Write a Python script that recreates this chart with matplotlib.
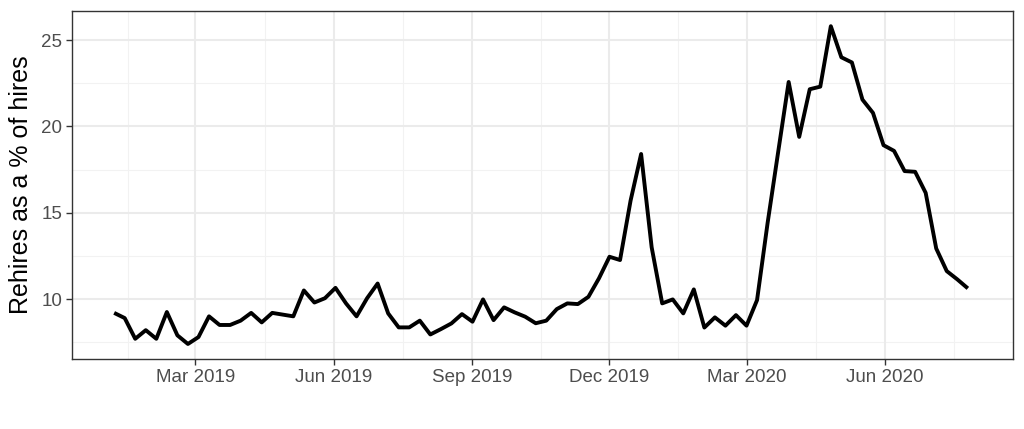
import matplotlib
matplotlib.use("Agg")
import matplotlib.pyplot as plt
import matplotlib.dates as mdates
import numpy as np
import pandas as pd

plt.rcParams['font.family'] = ['Liberation Sans', 'DejaVu Sans']

start_date = "2019-01-06"
n_weeks = 82
rehire_pct = [
    9.2, 8.9, 7.7, 8.2, 7.7, 9.25, 7.9, 7.4, 7.8, 9.0,
    8.5, 8.5, 8.75, 9.2, 8.65, 9.2, 9.1, 9.0, 10.5, 9.8,
    10.05, 10.65, 9.75, 9.0, 10.05, 10.9, 9.17, 8.36, 8.36, 8.75,
    7.95, 8.26, 8.59, 9.13, 8.69, 9.98, 8.78, 9.52, 9.23, 8.98,
    8.6, 8.75, 9.42, 9.75, 9.71, 10.13, 11.2, 12.45, 12.26, 15.7,
    18.4, 13.0, 9.75, 9.98, 9.17, 10.56, 8.35, 8.94, 8.46, 9.07,
    8.46, 9.94, 14.4, 18.5, 22.57, 19.39, 22.15, 22.3, 25.8, 24.0,
    23.7, 21.55, 20.78, 18.91, 18.58, 17.41, 17.37, 16.15, 12.93, 11.62,
    11.14, 10.62,
]
dates = pd.date_range(start_date, periods=n_weeks, freq="7D")

major_dates = pd.to_datetime(["2018-12-01", "2019-03-01", "2019-06-01", "2019-09-01",
                              "2019-12-01", "2020-03-01", "2020-06-01", "2020-09-01"])
tick_dates = major_dates[1:-1]
y_ticks = [10, 15, 20, 25]
y_minor = [7.5, 12.5, 17.5, 22.5]

fig = plt.figure(figsize=(10.24, 4.29), dpi=100)
ax = fig.add_axes([72/1024, 1 - 359/429, (1013-72)/1024, (359-11)/429])

# grid
md = mdates.date2num(major_dates)
minor_x = (md[:-1] + md[1:]) / 2
for x in minor_x:
    ax.axvline(x, color="#F2F2F2", lw=0.8, zorder=0)
for y in y_minor:
    ax.axhline(y, color="#F2F2F2", lw=0.8, zorder=0)
for x in mdates.date2num(tick_dates):
    ax.axvline(x, color="#EBEBEB", lw=1.5, zorder=0)
for y in y_ticks:
    ax.axhline(y, color="#EBEBEB", lw=1.5, zorder=0)

ax.plot(dates, rehire_pct, color="black", lw=2.8, solid_joinstyle="round",
        solid_capstyle="butt", zorder=3)

ax.set_xlim(pd.Timestamp("2018-12-09"), pd.Timestamp("2020-08-25"))
ax.set_ylim(6.53, 26.68)
ax.set_xticks(tick_dates)
ax.xaxis.set_major_formatter(mdates.DateFormatter("%b %Y"))
ax.set_yticks(y_ticks)
ax.tick_params(axis="both", labelsize=13.5, colors="#333333", labelcolor="#4D4D4D",
               length=4, width=1.0, pad=3)
ax.set_ylabel("Rehires as a % of hires", fontsize=18, color="black", labelpad=6)
for s in ax.spines.values():
    s.set_color("#333333")
    s.set_linewidth(1.0)

fig.savefig("out.png", dpi=100)
